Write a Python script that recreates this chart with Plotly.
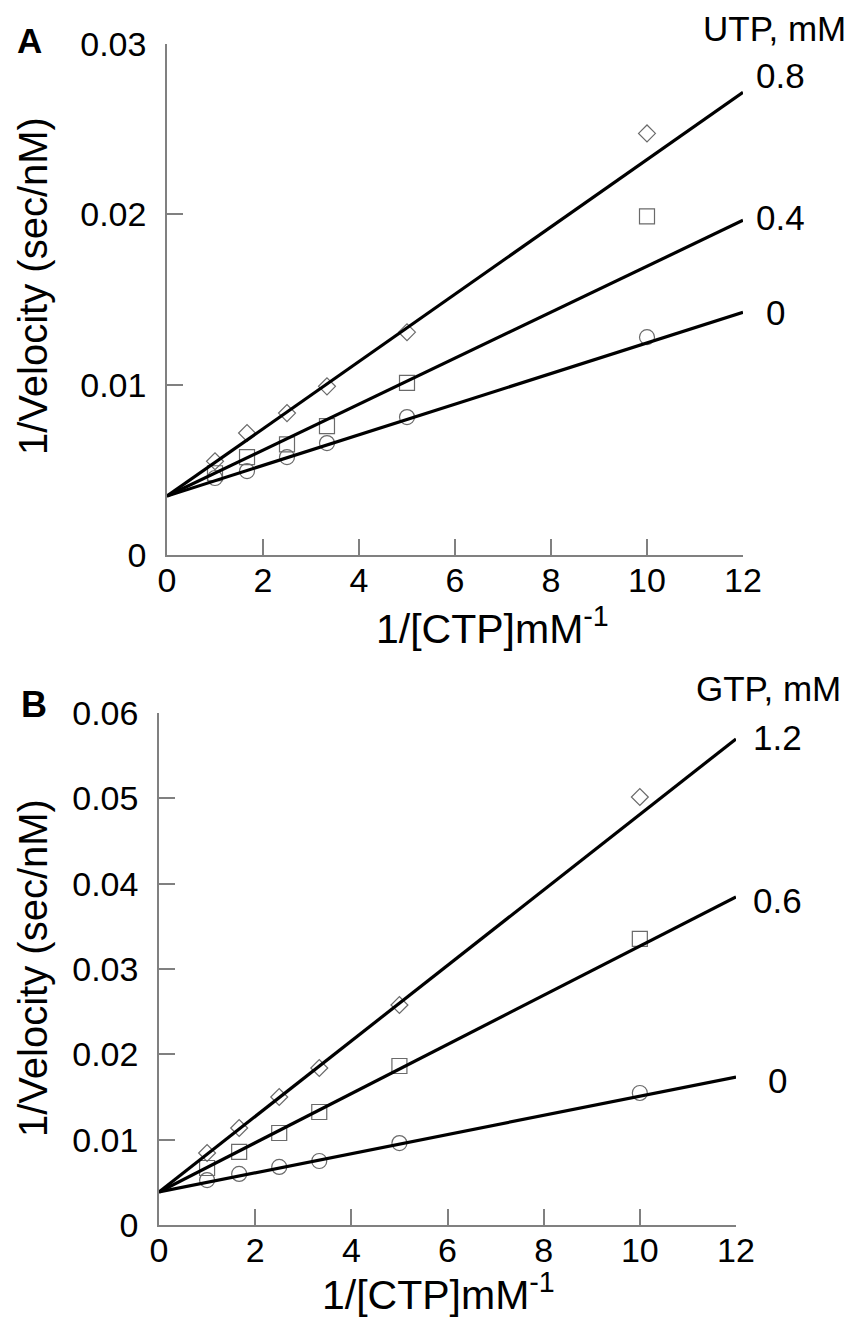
import plotly.graph_objects as go

W, H = 856, 1318

# ---------------- data ----------------
x_ctp = [1, 1.667, 2.5, 3.333, 5, 10]

# Panel A: UTP, mM
utp_levels = ["0", "0.4", "0.8"]
utp_0 = [0.00452, 0.00493, 0.00575, 0.00657, 0.0081, 0.01279]
utp_04 = [0.0048, 0.00575, 0.0065, 0.00757, 0.0101, 0.01988]
utp_08 = [0.0055, 0.00716, 0.00833, 0.0099, 0.01308, 0.02475]
fit_x = [0, 12]
fit_a_0 = [0.00346, 0.01425]
fit_a_04 = [0.00346, 0.01965]
fit_a_08 = [0.00346, 0.02716]

# Panel B: GTP, mM
gtp_levels = ["0", "0.6", "1.2"]
gtp_0 = [0.00527, 0.00598, 0.0068, 0.0075, 0.0096, 0.01547]
gtp_06 = [0.00668, 0.00856, 0.01078, 0.01324, 0.01863, 0.03352]
gtp_12 = [0.00844, 0.01137, 0.0150, 0.0184, 0.02578, 0.05016]
fit_b_0 = [0.00387, 0.01734]
fit_b_06 = [0.00387, 0.03844]
fit_b_12 = [0.00387, 0.05696]

x_ticks = [0, 2, 4, 6, 8, 10, 12]
ya_ticks = [0, 0.01, 0.02, 0.03]
ya_text = ["0", "0.01", "0.02", "0.03"]
yb_ticks = [0, 0.01, 0.02, 0.03, 0.04, 0.05, 0.06]
yb_text = ["0", "0.01", "0.02", "0.03", "0.04", "0.05", "0.06"]

# ---------------- style ----------------
FONT = "Liberation Sans, Arial, sans-serif"
MK_COL = "#6a6a6a"
AX_COL = "#808080"

fig = go.Figure()

def add_panel(xa, ya, series, fits, symbols, sizes):
    for ys, sym, sz in zip(series, symbols, sizes):
        fig.add_trace(go.Scatter(
            x=x_ctp, y=ys, mode="markers", xaxis=xa, yaxis=ya,
            marker=dict(symbol=sym, size=sz, color=MK_COL,
                        line=dict(color=MK_COL, width=1.2)),
            showlegend=False, hoverinfo="skip"))
    for fy in fits:
        fig.add_trace(go.Scatter(
            x=fit_x, y=fy, mode="lines", xaxis=xa, yaxis=ya,
            line=dict(color="black", width=3.2),
            showlegend=False, hoverinfo="skip"))

add_panel("x", "y", [utp_0, utp_04, utp_08], [fit_a_0, fit_a_04, fit_a_08],
          ["circle-open", "square-open", "diamond-open"], [15, 15, 13])
add_panel("x2", "y2", [gtp_0, gtp_06, gtp_12], [fit_b_0, fit_b_06, fit_b_12],
          ["circle-open", "square-open", "diamond-open"], [15, 15, 13])

def px_x(v):
    return v / W

def px_y(v):
    return 1 - v / H

axis_common = dict(
    showline=True, linecolor=AX_COL, linewidth=1.5,
    ticks="inside", ticklen=16, tickwidth=1.5, tickcolor=AX_COL,
    showgrid=False, zeroline=False, mirror=False, automargin=False,
    tickfont=dict(family=FONT, size=34, color="black"),
)

fig.update_layout(
    width=W, height=H,
    margin=dict(l=0, r=0, t=0, b=0, autoexpand=False),
    paper_bgcolor="white", plot_bgcolor="white",
    font=dict(family=FONT, color="black"),
    xaxis=dict(domain=[px_x(167), px_x(743)], range=[0, 12], anchor="y",
               tickvals=x_ticks, ticklabelstandoff=-6, **axis_common),
    yaxis=dict(domain=[px_y(555), px_y(44)], range=[0, 0.03], anchor="x",
               tickvals=ya_ticks, ticktext=ya_text, ticklabelstandoff=12, **axis_common),
    xaxis2=dict(domain=[px_x(159), px_x(736)], range=[0, 12], anchor="y2",
                tickvals=x_ticks, ticklabelstandoff=-6, **axis_common),
    yaxis2=dict(domain=[px_y(1225), px_y(713)], range=[0, 0.06], anchor="x2",
                tickvals=yb_ticks, ticktext=yb_text, ticklabelstandoff=12, **axis_common),
)

def note(text, x, y, size, angle=0):
    fig.add_annotation(text=text, x=px_x(x), y=px_y(y), xref="paper", yref="paper",
                       xanchor="center", yanchor="middle", showarrow=False,
                       textangle=angle, font=dict(family=FONT, size=size, color="black"))

# panel letters
note("<b>A</b>", 30, 41, 35)
note("<b>B</b>", 34, 704, 36)

# axis titles
note("1/Velocity (sec/nM)", 33, 286, 40, -90)
note("1/Velocity (sec/nM)", 33, 968, 40, -90)
note("1/[CTP]mM<sup>-1</sup>", 492, 626, 41)
note("1/[CTP]mM<sup>-1</sup>", 438, 1292, 41)

# series labels
note("UTP, mM", 774, 29, 35)
for lab, yy in zip(utp_levels, [313, 217, 75]):
    note(lab, 780 if lab != "0" else 775, yy, 35)
note("GTP, mM", 768, 688, 35)
for lab, yy in zip(gtp_levels, [1080, 900, 737]):
    note(lab, 777, yy, 35)

fig.write_html("out.html")
